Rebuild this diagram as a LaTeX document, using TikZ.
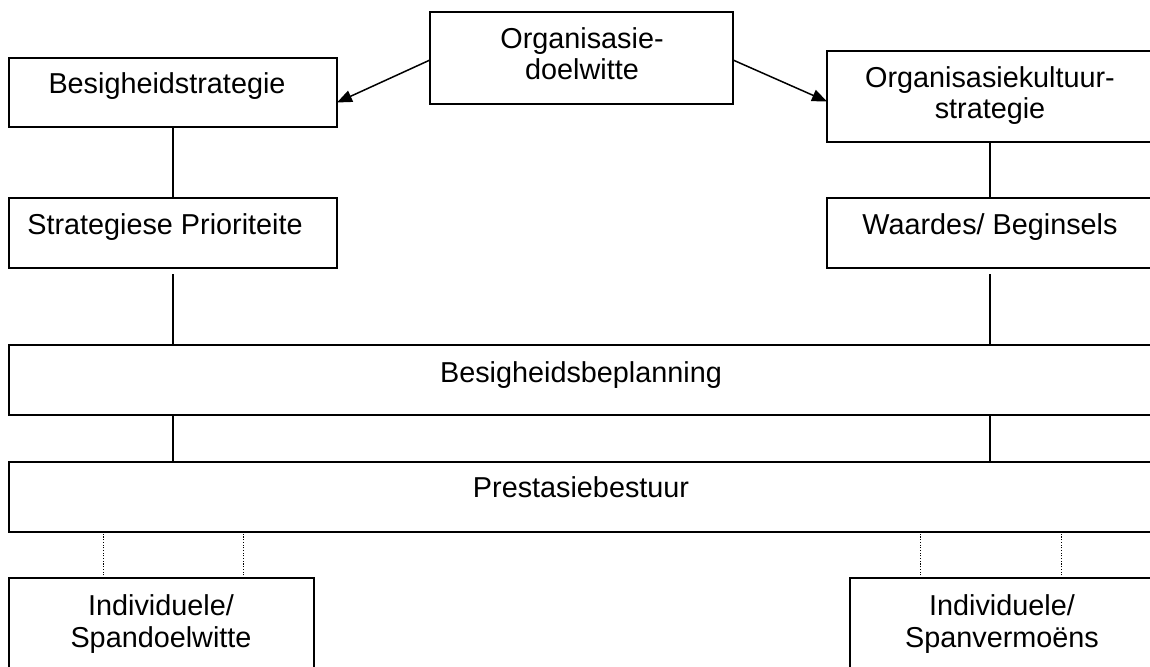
\documentclass[tikz,border=0pt]{standalone}
\usepackage{fontspec}
\setmainfont{Liberation Sans}
\usetikzlibrary{arrows.meta,calc}

\begin{document}
\begin{tikzpicture}[x=1pt,y=-1pt,
  box/.style={draw=black, line width=2.1pt, fill=white, inner sep=0pt, outer sep=0pt, anchor=north west},
  txt/.style={inner sep=0pt, outer sep=0pt, anchor=base, font=\fontsize{28.8}{32}\selectfont},
  link/.style={draw=black, line width=1.5pt},
  dotline/.style={draw=black, line width=1pt, dash pattern=on 1.1pt off 1.6pt},
  arrowlink/.style={draw=black, line width=1.5pt, -{Triangle[length=15pt,width=12pt]}}
]
\useasboundingbox (0,0) rectangle (1150,666);
\clip (0,0) rectangle (1150,666);

% boxes
\node[box, minimum width=303pt, minimum height=92pt] (goals) at (430,12) {};
\node[box, minimum width=328pt, minimum height=69pt] (busstrat) at (9,58) {};
\node[box, minimum width=328pt, minimum height=91pt] (culture) at (827,51) {};
\node[box, minimum width=328pt, minimum height=70pt] (prio) at (9,198) {};
\node[box, minimum width=328pt, minimum height=70pt] (values) at (827,198) {};
\node[box, minimum width=1146pt, minimum height=70pt] (plan) at (9,345) {};
\node[box, minimum width=1146pt, minimum height=70pt] (perf) at (9,462) {};
\node[box, minimum width=305pt, minimum height=110pt] (indgoals) at (9,578) {};
\node[box, minimum width=305pt, minimum height=110pt] (indcap) at (850,578) {};

% labels
\node[txt] (goalsA) at (582,49) {Organisasie-};
\node[txt] (goalsB) at (582,80) {doelwitte};
\node[txt] (busstratT) at (167,94) {Besigheidstrategie};
\node[txt] (cultureA) at (990,88) {Organisasiekultuur-};
\node[txt] (cultureB) at (990,118) {strategie};
\node[txt] (prioT) at (165,234) {Strategiese Prioriteite};
\node[txt] (valuesT) at (990,234) {Waardes/ Beginsels};
\node[txt] (planT) at (581,382) {Besigheidsbeplanning};
\node[txt] (perfT) at (581,497) {Prestasiebestuur};
\node[txt] (indgoalsA) at (161,615) {Individuele/};
\node[txt] (indgoalsB) at (161,647) {Spandoelwitte};
\node[txt] (indcapA) at (1002,615) {Individuele/};
\node[txt] (indcapB) at (1002,647) {Spanvermoëns};

% arrows from the goals box
\draw[arrowlink] ([yshift=-2pt]goals.west) -- ([yshift=-10pt]busstrat.east);
\draw[arrowlink] ([yshift=-2pt]goals.east) -- ([yshift=-5pt]culture.west);

% solid connectors
\coordinate (lx) at (173,0);
\coordinate (rx) at (990,0);
\draw[link] (lx |- busstrat.south) -- (lx |- prio.north);
\draw[link] (rx |- culture.south) -- (rx |- values.north);
\draw[link] ([yshift=-6pt]lx |- prio.south) -- (lx |- plan.north);
\draw[link] ([yshift=-6pt]rx |- values.south) -- (rx |- plan.north);
\draw[link] (lx |- plan.south) -- (lx |- perf.north);
\draw[link] (rx |- plan.south) -- (rx |- perf.north);

% dotted connectors
\draw[dotline] ([xshift=94pt]indgoals.north west) -- ([xshift=94pt]indgoals.north west |- perf.south);
\draw[dotline] ([xshift=234pt]indgoals.north west) -- ([xshift=234pt]indgoals.north west |- perf.south);
\draw[dotline] ([xshift=70pt]indcap.north west) -- ([xshift=70pt]indcap.north west |- perf.south);
\draw[dotline] ([xshift=211pt]indcap.north west) -- ([xshift=211pt]indcap.north west |- perf.south);
\end{tikzpicture}
\end{document}
